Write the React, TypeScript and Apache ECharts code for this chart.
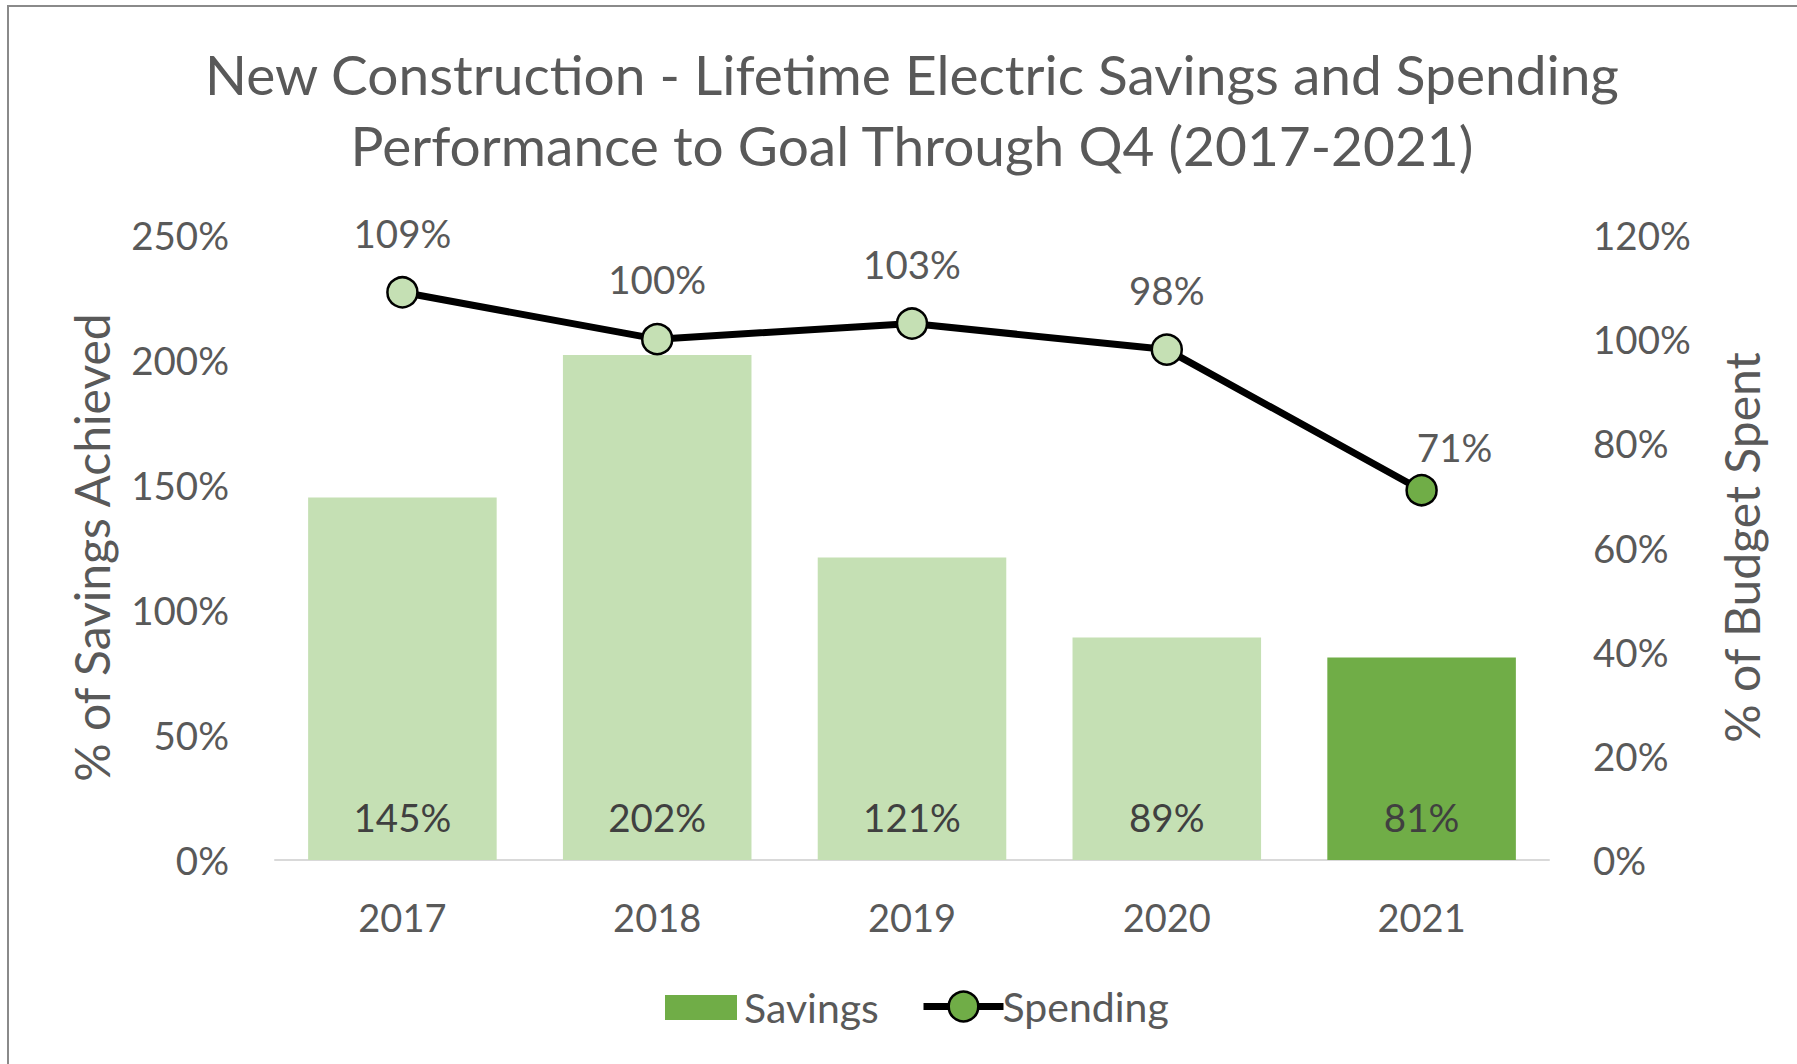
import React, { useEffect, useRef } from "react";
import * as echarts from "echarts";

const titleText = "New Construction - Lifetime Electric Savings and Spending\nPerformance to Goal Through Q4 (2017-2021)";
const categories = ["2017", "2018", "2019", "2020", "2021"];
const savings = [145, 202, 121, 89, 81];
const spending = [109, 100, 103, 98, 71];
const leftTicks = { min: 0, max: 250, interval: 50 };
const rightTicks = { min: 0, max: 120, interval: 20 };

const FONT = "Lato, 'Open Sans', sans-serif";
const TXT = "#595959";
const LIGHT = "#C5E0B4";
const DARK = "#70AD47";

export default function App() {
  const ref = useRef<HTMLDivElement>(null);
  useEffect(() => {
    if (!ref.current) return;
    const chart = echarts.init(ref.current, null, { renderer: "svg" });
    const last = categories.length - 1;
    const legendText = { fontFamily: FONT, fontSize: 41, color: TXT, padding: [0, 0, 0, 2] };
    chart.setOption({
      animation: false,
      backgroundColor: "#ffffff",
      textStyle: { fontFamily: FONT },
      title: {
        text: titleText,
        left: 907,
        textAlign: "center",
        top: 33,
        textStyle: { fontFamily: FONT, fontSize: 55, fontWeight: "normal", color: TXT, lineHeight: 71 },
      },
      legend: [
        {
          left: 660,
          top: 982,
          itemWidth: 72,
          itemHeight: 25,
          icon: "rect",
          textStyle: legendText,
          data: [{ name: "Savings" }],
        },
        {
          left: 915,
          top: 981,
          itemWidth: 80,
          itemHeight: 37,
          textStyle: { ...legendText, padding: [0, 0, 0, -6] },
          lineStyle: { width: 7, color: "#000000" },
          itemStyle: { borderWidth: 2.5, borderColor: "#000000", color: DARK },
          data: [{ name: "Spending" }],
        },
      ],
      grid: { left: 275, right: 248, top: 235, bottom: 204, containLabel: false },
      xAxis: {
        type: "category",
        data: categories,
        axisLine: { lineStyle: { color: "#D9D9D9", width: 2 } },
        axisTick: { show: false },
        axisLabel: { color: TXT, fontSize: 38, fontFamily: FONT, margin: 38 },
      },
      yAxis: [
        {
          type: "value",
          ...leftTicks,
          name: "% of Savings Achieved",
          nameLocation: "middle",
          nameRotate: 90,
          nameGap: 160,
          nameTextStyle: { color: TXT, fontSize: 48, fontFamily: FONT },
          splitLine: { show: false },
          axisLine: { show: false },
          axisTick: { show: false },
          axisLabel: { color: TXT, fontSize: 38.5, fontFamily: FONT, margin: 46, formatter: "{value}%" },
        },
        {
          type: "value",
          ...rightTicks,
          name: "% of Budget Spent",
          nameLocation: "middle",
          nameRotate: 90,
          nameGap: 168,
          nameTextStyle: { color: TXT, fontSize: 48, fontFamily: FONT },
          splitLine: { show: false },
          axisLine: { show: false },
          axisTick: { show: false },
          axisLabel: { color: TXT, fontSize: 38.5, fontFamily: FONT, margin: 44, formatter: "{value}%" },
        },
      ],
      series: [
        {
          name: "Savings",
          type: "bar",
          yAxisIndex: 0,
          barCategoryGap: "26%",
          itemStyle: { color: DARK },
          data: savings.map((v, i) => ({ value: v, itemStyle: { color: i === last ? DARK : LIGHT } })),
          label: {
            show: true,
            position: "insideBottom",
            distance: 24,
            color: "#404040",
            fontSize: 38.5,
            fontFamily: FONT,
            formatter: "{c}%",
          },
        },
        {
          name: "Spending",
          type: "line",
          yAxisIndex: 1,
          symbol: "circle",
          symbolSize: 30,
          lineStyle: { color: "#000000", width: 7 },
          itemStyle: { color: DARK, borderColor: "#000000", borderWidth: 2.5 },
          data: spending.map((v, i) =>
            i === last
              ? { value: v, itemStyle: { color: DARK }, label: { position: "top", distance: 7, offset: [33, 0] } }
              : { value: v, itemStyle: { color: LIGHT } }
          ),
          label: {
            show: true,
            position: "top",
            distance: 24,
            color: TXT,
            fontSize: 38.5,
            fontFamily: FONT,
            formatter: "{c}%",
          },
          z: 5,
        },
      ],
      graphic: [
        {
          type: "rect",
          shape: { x: 8, y: 6, width: 2000, height: 2000 },
          style: { fill: "none", stroke: "#8a8a8a", lineWidth: 2 },
          silent: true,
        },
      ],
    });
    return () => chart.dispose();
  }, []);
  return (
    <div
      ref={ref}
      style={{ position: "absolute", left: 0, top: 0, width: 1797, height: 1064 }}
    />
  );
}
